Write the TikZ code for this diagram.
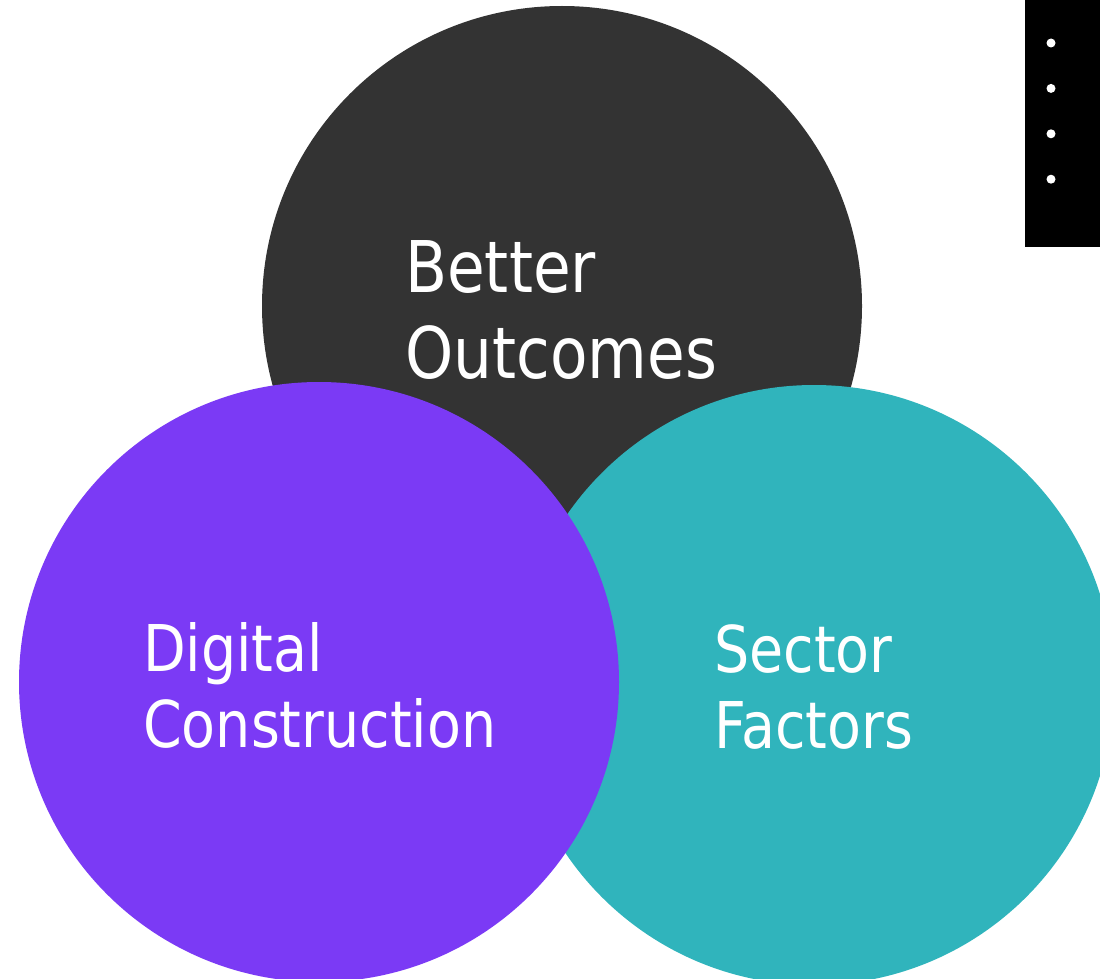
\documentclass[tikz,border=0pt]{standalone}
\usepackage{fontspec}
\setmainfont{DejaVu Sans}[FakeStretch=0.86]
\usetikzlibrary{positioning}
\definecolor{darkdisc}{HTML}{333333}
\definecolor{purpledisc}{HTML}{7B3AF5}
\definecolor{tealdisc}{HTML}{30B4BC}
\tikzstyle{disc} = [circle, minimum size=600pt, inner sep=0pt]
\tikzstyle{big} = [text=white, anchor=base west, inner sep=0pt, align=left, font=\fontsize{71.3pt}{86pt}\selectfont]
\tikzstyle{mid} = [text=white, anchor=base west, inner sep=0pt, align=left, font=\fontsize{64.5pt}{76pt}\selectfont]
\tikzstyle{dot} = [circle, fill=white, minimum size=9pt, inner sep=0pt]

\begin{document}
\begin{tikzpicture}[x=1pt, y=-1pt]
    \useasboundingbox (0,0) rectangle (1100,979);
    \clip (0,0) rectangle (1100,979);

    \node[disc, fill=darkdisc] (outcomes) at (562,306) {};
    \node[disc, fill=tealdisc] (sector) at (814,685) {};
    \node[disc, fill=purpledisc] (digital) at (319,682) {};

    \node[big] (outcomestext) at (405,378) {Better\\Outcomes};
    \node[mid] (digitaltext) at (143,747) {Digital\\Construction};
    \node[mid] (sectortext) at (714,748) {Sector\\Factors};

    % menu strip
    \fill[black] (1025,0) rectangle (1100,247);
    \node[dot] (d1) at (1051,43) {};
    \node[dot, below=36pt of d1] (d2) {};
    \node[dot, below=36pt of d2] (d3) {};
    \node[dot, below=36pt of d3] (d4) {};

\end{tikzpicture}
\end{document}
